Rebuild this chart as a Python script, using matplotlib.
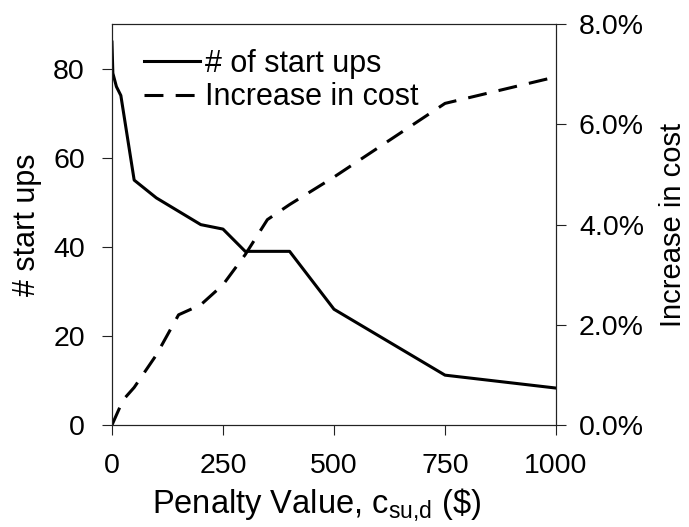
import matplotlib
matplotlib.use("Agg")
import matplotlib.pyplot as plt
from matplotlib.ticker import FuncFormatter

plt.rcParams["font.family"] = ["Liberation Sans", "DejaVu Sans"]
plt.rcParams["mathtext.fontset"] = "custom"
plt.rcParams["mathtext.rm"] = "Liberation Sans"
plt.rcParams["font.size"] = 20.5

# start-up penalty sweep
pen_startups = [0, 2, 10, 20, 50, 100, 150, 200, 250, 300, 400, 500, 750, 1000]
n_startups = [86, 79, 76, 74, 55, 51, 48, 45, 44, 39, 39, 26, 11.2, 8.3]

pen_cost = [0, 25, 50, 100, 150, 200, 250, 300, 350, 400, 500, 750, 1000]
cost_increase = [0.0, 0.5, 0.75, 1.4, 2.2, 2.4, 2.8, 3.4, 4.1, 4.4, 4.95, 6.42, 6.95]

xticks = [0, 250, 500, 750, 1000]
left_ticks = [0, 20, 40, 60, 80]
right_ticks = [0, 2, 4, 6, 8]

fig = plt.figure(figsize=(6.89, 5.27), dpi=100)
ax = fig.add_axes([0.1625, 0.1935, 0.6445, 0.7605])
ax2 = ax.twinx()

l1, = ax.plot(pen_startups, n_startups, color="black", lw=2.2,
              label="# of start ups")
l2, = ax2.plot(pen_cost, cost_increase, color="black", lw=2.2,
               dashes=(6.2, 4), label="Increase in cost")

ax.set_xlim(0, 1000)
ax.set_ylim(0, 90)
ax2.set_ylim(0, 8)
ax.set_xticks(xticks)
ax.set_yticks(left_ticks)
ax2.set_yticks(right_ticks)
ax2.yaxis.set_major_formatter(FuncFormatter(lambda v, p: "{:.1f}%".format(v)))

for a in (ax, ax2):
    a.tick_params(direction="out", length=7.5, width=0.8, colors="#222222",
                  labelcolor="black")
    for s in a.spines.values():
        s.set_linewidth(0.8)
        s.set_color("#222222")
ax.tick_params(axis="x", pad=13)
ax.tick_params(axis="y", pad=12)
ax2.tick_params(axis="y", pad=9)

ax.set_xlabel(r"Penalty Value, c$_{\mathregular{su{,}d}}$ (\$)", fontsize=23.5)
ax.xaxis.set_label_coords(0.46, -0.155)
ax.set_ylabel("# start ups", fontsize=22, labelpad=8)
ax2.set_ylabel("Increase in cost", fontsize=21, labelpad=11)

ax.legend(handles=[l1, l2], loc="upper left", frameon=False, fontsize=22,
          bbox_to_anchor=(0.03, 0.985), handlelength=1.86, handletextpad=0.16,
          labelspacing=0.12, borderaxespad=0.2)

fig.savefig("out.png", dpi=100)
